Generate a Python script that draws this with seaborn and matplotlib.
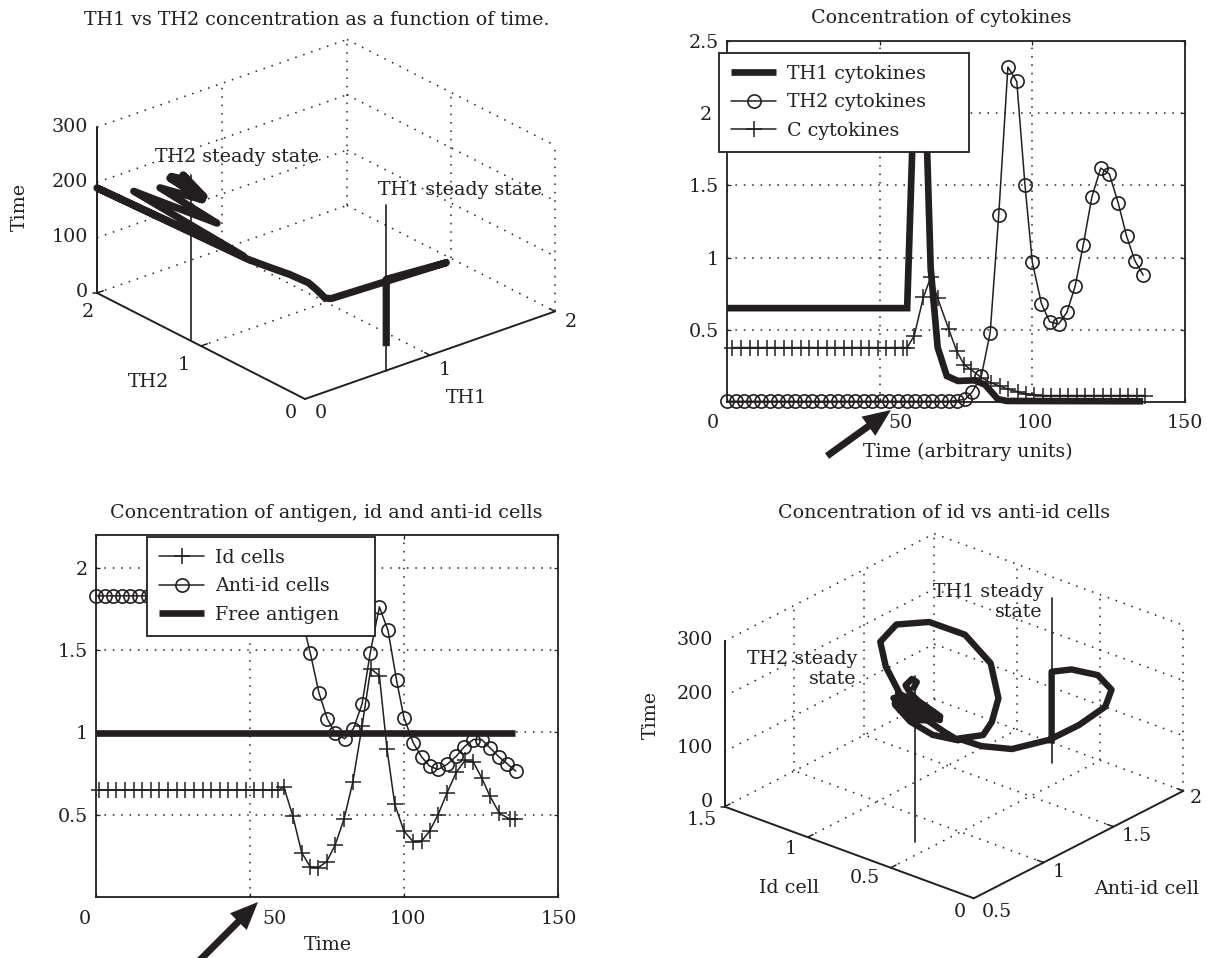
import numpy as np
import matplotlib
matplotlib.use("Agg")
import matplotlib.pyplot as plt
from matplotlib.transforms import ScaledTranslation
import seaborn as sns

# ---------- data: panel A (TH1 / TH2 / time trajectory) ----------
a_th1 = [0.65, 0.65, 1.13, 0.21, 0.16, 0.147, 0.12, 0.083, 0.04, 0.0, 0.0, 0.01, 0.04, 0.087, 0.094, 0.105, 0.099, 0.142, 0.17, 0.068, 0.076, 0.029, 0.12]
a_th2 = [0.0, 0.0, 0.0, 0.0, 0.0, 0.067, 0.112, 0.246, 0.414, 0.55, 2.0, 0.603, 1.695, 0.95, 1.508, 1.117, 1.405, 1.304, 1.376, 1.053, 1.391, 1.023, 1.25]
a_time = [44, 165, 157, 165, 170, 180, 190, 195, 197, 200, 190, 200, 210, 220, 230, 245, 260, 260, 260, 260, 260, 260, 260]
a_steady_th1 = [0.65, 0.0]
a_steady_th2 = [0.0, 1.1]
steady_time = [0, 300]

# ---------- data: panel B (cytokines) ----------
th1c_t = [0, 59, 60.7, 63, 65.5, 66.7, 69, 72, 75.6, 81, 84.5, 88.7, 91.7, 136.3]
th1c_v = [0.65, 0.65, 1.77, 2.35, 1.77, 0.93, 0.377, 0.18, 0.146, 0.15, 0.12, 0.02, 0.007, 0.005]
th2c_t = [0, 2.8, 5.6, 8.4, 11.2, 14, 16.8, 19.6, 22.4, 25.2, 28, 30.8, 33.6, 36.4, 39.2, 42, 44.8, 47.6, 50.4, 53.2,
          56, 58.8, 61.6, 64.4, 67.2, 70, 72.8, 75.2, 78, 80.4, 83.3, 86.2, 89, 92, 94.9, 97.6, 100, 103, 105.7,
          108.6, 111.3, 114, 116.7, 119.5, 122.4, 125.2, 128.1, 130.9, 133.6, 136.3]
th2c_v = [0.005, 0.005, 0.005, 0.005, 0.005, 0.005, 0.005, 0.005, 0.005, 0.005, 0.005, 0.005, 0.005, 0.005, 0.005, 0.005, 0.005, 0.005, 0.005, 0.005,
          0.005, 0.005, 0.005, 0.005, 0.005, 0.005, 0.005, 0.01, 0.018, 0.072, 0.18, 0.481, 1.297, 2.32, 2.22, 1.50, 0.967, 0.68, 0.555,
          0.54, 0.62, 0.80, 1.09, 1.42, 1.62, 1.58, 1.38, 1.147, 0.978, 0.879]
cc_t = [1.8, 4.6, 7.4, 10.2, 13, 15.8, 18.6, 21.4, 24.2, 27, 29.8, 32.6, 35.4, 38.2, 41, 43.8, 46.6, 49.4, 52.2, 55, 57.8, 59,
        61.3, 64.3, 66.7, 69, 72.6, 75.2, 77.7, 79.8, 83.3, 86.3, 89.3, 92, 95.2, 97.9, 100.6, 103.4, 106.2, 109, 111.8,
        114.6, 117.4, 120.2, 123, 125.8, 128.6, 131.4, 134.2, 136.8]
cc_v = [0.377, 0.377, 0.377, 0.377, 0.377, 0.377, 0.377, 0.377, 0.377, 0.377, 0.377, 0.377, 0.377, 0.377, 0.377, 0.377, 0.377, 0.377, 0.377, 0.377, 0.377, 0.377,
        0.458, 0.724, 0.863, 0.718, 0.505, 0.354, 0.257, 0.227, 0.169, 0.134, 0.111, 0.088, 0.072, 0.053, 0.049, 0.045, 0.045, 0.045, 0.045,
        0.045, 0.045, 0.045, 0.045, 0.045, 0.045, 0.045, 0.045, 0.045]
b_xticks = [0, 50, 100, 150]
b_yticks = [0.5, 1, 1.5, 2, 2.5]
b_yticklabels = ["0.5", "1", "1.5", "2", "2.5"]

# ---------- data: panel C (antigen, id, anti-id) ----------
id_t = [1, 3.8, 6.6, 9.4, 12.2, 15, 17.8, 20.6, 23.4, 26.2, 29, 31.8, 34.6, 37.4, 40.2, 43, 45.8, 48.6, 51.4, 54.2, 57, 59.2, 61,
        63.9, 66.8, 69.6, 72.1, 74.9, 77.6, 80.5, 83.4, 86.4, 89.2, 92, 94.5, 97, 100, 103, 105.7, 108.3, 111, 114, 117,
        119.8, 122.5, 125.2, 127.9, 131, 134.5, 136]
id_v = [0.65, 0.65, 0.65, 0.65, 0.65, 0.65, 0.65, 0.65, 0.65, 0.65, 0.65, 0.65, 0.65, 0.65, 0.65, 0.65, 0.65, 0.65, 0.65, 0.65, 0.65, 0.65, 0.668,
        0.492, 0.269, 0.182, 0.178, 0.215, 0.314, 0.472, 0.70, 1.04, 1.387, 1.346, 0.897, 0.563, 0.40, 0.336, 0.34, 0.40, 0.498, 0.634, 0.759,
        0.83, 0.82, 0.725, 0.613, 0.508, 0.472, 0.472]
anti_t = [0, 2.8, 5.6, 8.4, 11.2, 14, 16.8, 19.6, 28, 42, 56, 61.6, 64.4, 67, 69.6, 72.4, 75.1, 77.7, 80.7, 83.6, 86.4, 89, 92, 94.8,
          97.6, 100, 103, 105.7, 108.3, 111, 114, 117, 119.6, 122.5, 125.2, 127.9, 130.8, 133.5, 136.3]
anti_v = [1.83, 1.83, 1.83, 1.83, 1.83, 1.83, 1.83, 1.83, 1.83, 1.83, 1.83, 1.83, 1.81, 1.68, 1.48, 1.24, 1.083, 0.994, 0.962, 1.024, 1.174, 1.48, 1.763, 1.621,
          1.316, 1.089, 0.937, 0.852, 0.796, 0.775, 0.806, 0.856, 0.913, 0.957, 0.957, 0.907, 0.852, 0.81, 0.765]
ag_t = [0, 136]
ag_v = [0.995, 0.995]
c_xticks = [0, 50, 100, 150]
c_yticks = [0.5, 1, 1.5, 2]
c_yticklabels = ["0.5", "1", "1.5", "2"]

# ---------- data: panel D (id / anti-id / time trajectory) ----------
d_anti = [1.83, 1.83, 1.89, 1.90, 1.80, 1.62, 1.37, 1.14, 0.93, 0.84, 0.81, 0.89, 1.0, 1.19, 1.42, 1.54, 1.50, 1.35, 1.13, 0.91, 0.73, 0.62, 0.59, 0.58,
          0.53, 0.58, 0.68, 0.78, 0.77, 0.72, 0.69, 0.79, 0.73, 0.69, 0.68, 0.65, 0.63, 0.67, 0.70, 0.74, 0.73, 0.68, 0.64, 0.73, 0.75, 0.75, 0.82, 0.87, 0.94, 0.93, 0.85]
d_id = [0.65, 0.65, 0.581, 0.431, 0.264, 0.151, 0.099, 0.083, 0.132, 0.241, 0.354, 0.272, 0.312, 0.432, 0.672, 0.928, 1.11, 1.181, 1.093, 0.875, 0.639, 0.415, 0.256, 0.161,
        0.273, 0.45, 0.625, 0.691, 0.544, 0.387, 0.636, 0.604, 0.423, 0.364, 0.489, 0.571, 0.43, 0.39, 0.406, 0.472, 0.534, 0.538, 0.535, 0.677, 0.619, 0.508, 0.652, 0.722, 0.743, 0.705, 0.664]
d_time = [36, 166, 170, 175, 180, 185, 190, 195, 200, 205, 210, 215, 220, 225, 232, 240, 248, 255, 262, 270, 270, 268, 262, 258,
          262, 260, 258, 258, 258, 258, 258, 258, 258, 258, 258, 258, 258, 258, 258, 258, 258, 258, 258, 258, 258, 258, 258, 258, 258, 258, 258]
d_steady1_anti = [1.83, 1.83]
d_steady1_id = [0.65, 0.65]
d_steady2_anti = [0.784, 0.784]
d_steady2_id = [0.595, 0.595]

INK = "#231f20"
FONT = "DejaVu Serif"
FS = 13.7
W, H = 1207, 958

sns.set_theme(style="white", rc={"axes.edgecolor": INK, "text.color": INK, "axes.labelcolor": INK,
                                 "xtick.color": INK, "ytick.color": INK})
plt.rcParams["font.family"] = [FONT, "DejaVu Sans"]
plt.rcParams["font.size"] = FS

fig = plt.figure(figsize=(W / 100, H / 100), dpi=100)
DOT = (0, (1, 4.5))


def px_axes(x0, y0, x1, y1):
    ax = fig.add_axes([x0 / W, 1 - y1 / H, (x1 - x0) / W, (y1 - y0) / H])
    ax.set_xlim(x0, x1)
    ax.set_ylim(y1, y0)
    ax.axis("off")
    return ax


def curve(ax, xs, ys, **kw):
    sns.lineplot(x=xs, y=ys, ax=ax, sort=False, estimator=None, errorbar=None, legend=False,
                 color=INK, clip_on=False, **kw)


def box3d(ax, proj, xr, yr, zr, xt, yt, zt):
    """Draw the MATLAB style open box: floor, two back walls, three solid axes."""
    x0, x1 = xr
    y0, y1 = yr
    z0, z1 = zr

    def seg(p, q, **kw):
        s = proj(np.array([p[0], q[0]]), np.array([p[1], q[1]]), np.array([p[2], q[2]]))
        curve(ax, s[0], s[1], **kw)

    grid = dict(lw=1.1, linestyle=DOT)
    for x in list(xt) + [x1]:
        if x != x1:
            seg((x, y0, z0), (x, y1, z0), **grid)
        seg((x, y1, z0), (x, y1, z1), **grid)
    for y in list(yt) + [y0]:
        if y != y0:
            seg((x0, y, z0), (x1, y, z0), **grid)
        seg((x1, y, z0), (x1, y, z1), **grid)
    for z in zt:
        seg((x0, y1, z), (x1, y1, z), **grid)
        seg((x1, y1, z), (x1, y0, z), **grid)
    solid = dict(lw=1.4)
    seg((x0, y0, z0), (x1, y0, z0), **solid)
    seg((x0, y0, z0), (x0, y1, z0), **solid)
    seg((x0, y1, z0), (x0, y1, z1), **solid)
    dx = (x1 - x0) * 0.025
    dy = (y1 - y0) * 0.025
    for x in list(xt) + [x1]:
        seg((x, y0, z0), (x, y0 + dy, z0), lw=1.1)
    for y in list(yt) + [y1]:
        seg((x0, y, z0), (x0 + dx, y, z0), lw=1.1)
    sx, sy = proj(np.array([x0]), np.array([y1]), np.array(zt, dtype=float))
    for u, v in zip(sx, sy):
        curve(ax, [u - 4, u], [v, v], lw=1.1)


def texts(ax, items):
    for s, x, y, kw in items:
        ax.text(x, y, s, ha=kw.get("ha", "center"), va="center", rotation=kw.get("rot", 0),
                fontsize=FS, linespacing=1.1, multialignment=kw.get("ha", "center"))


def offset_ticks(ax, xlabels_dx, ylabels_dx=None):
    fig.canvas.draw()
    for lab, dx in zip(ax.get_xticklabels(), xlabels_dx):
        lab.set_transform(lab.get_transform() + ScaledTranslation(dx / 100, 0, fig.dpi_scale_trans))
    if ylabels_dx:
        for lab, dx in zip(ax.get_yticklabels(), ylabels_dx):
            lab.set_transform(lab.get_transform() + ScaledTranslation(dx / 100, 0, fig.dpi_scale_trans))


def panel2d(rect, xlim, ylim):
    x0, y0, x1, y1 = rect
    ax = fig.add_axes([x0 / W, 1 - y1 / H, (x1 - x0) / W, (y1 - y0) / H])
    ax.set_xlim(*xlim)
    ax.set_ylim(*ylim)
    ax.grid(True, color=INK, lw=1.1, linestyle=DOT)
    ax.set_axisbelow(True)
    for s in ax.spines.values():
        s.set_linewidth(1.3)
        s.set_color(INK)
    ax.tick_params(direction="in", length=3, width=0.9, top=True, right=True, left=True, bottom=True,
                   labelsize=FS)
    ax.tick_params(axis="x", pad=9)
    ax.tick_params(axis="y", pad=6)
    return ax


LEGEND = dict(loc="upper left", mode="expand", borderaxespad=0, frameon=True, fancybox=False, framealpha=1,
              edgecolor=INK, fontsize=FS, handlelength=2.4, handletextpad=0.55, labelspacing=0.55, borderpad=0.62)

# ---------- panel A ----------
axA = px_axes(0, 30, 600, 440)
OA = np.array([305.0, 399.0])


def projA(x, y, z):
    return OA[0] + 125 * x - 104 * y, OA[1] - 43.8 * x - 53 * y - 0.553 * z


box3d(axA, projA, (0, 2), (0, 2), (0, 300), [1], [1], [0, 100, 200, 300])
for i in range(2):
    s = projA(np.array([a_steady_th1[i]] * 2), np.array([a_steady_th2[i]] * 2), np.array(steady_time, dtype=float))
    curve(axA, s[0], s[1], lw=1.2)
s = projA(np.array(a_th1), np.array(a_th2), np.array(a_time, dtype=float))
curve(axA, s[0], s[1], lw=5.2, solid_joinstyle="round", solid_capstyle="butt")
texts(axA, [("TH2 steady state", 237, 157, {}), ("TH1 steady state", 460, 190, {}),
            ("Time", 20, 207, {"rot": 90}), ("300", 70, 127, {}), ("200", 70, 182, {}), ("100", 70, 237, {}),
            ("0", 82, 292, {}), ("2", 88, 312, {}), ("1", 184, 365, {}), ("TH2", 149, 382, {}),
            ("0", 291, 413, {}), ("0", 321, 413, {}), ("1", 445, 370, {}), ("TH1", 466, 398, {}), ("2", 571, 322, {})])
fig.text(317 / W, 1 - 20 / H, "TH1 vs TH2 concentration as a function of time.", ha="center", va="center", fontsize=FS)

# ---------- panel B ----------
axB = panel2d((727, 41, 1185, 402), (0, 150), (0, 2.5))
axB.set_xticks(b_xticks)
axB.set_yticks(b_yticks)
axB.set_yticklabels(b_yticklabels)
sns.lineplot(x=th1c_t, y=th1c_v, ax=axB, sort=False, estimator=None, errorbar=None, color=INK, lw=4.8,
             label="TH1 cytokines", clip_on=False, solid_joinstyle="miter", solid_capstyle="butt")
sns.lineplot(x=th2c_t, y=th2c_v, ax=axB, sort=False, estimator=None, errorbar=None, color=INK, lw=1.1,
             marker="o", ms=9.5, markerfacecolor="none", markeredgecolor=INK, markeredgewidth=1.2,
             label="TH2 cytokines", clip_on=False)
sns.lineplot(x=cc_t, y=cc_v, ax=axB, sort=False, estimator=None, errorbar=None, color=INK, lw=1.1,
             marker="+", ms=11, markeredgecolor=INK, markeredgewidth=1.1,
             label="C cytokines", clip_on=False)
axB.set_xlabel("")
axB.set_ylabel("")
lgB = axB.legend(bbox_to_anchor=((719 - 727) / 458, 1 - (53 - 41) / 361 - 0.02, 250 / 458, 0.02), **LEGEND)
lgB.get_frame().set_linewidth(1.3)
offset_ticks(axB, [-14, 21, 3, 0], [0, 0, 0, -7, 0])
fig.text(941 / W, 1 - 18 / H, "Concentration of cytokines", ha="center", va="center", fontsize=FS)
fig.text(968 / W, 1 - 452 / H, "Time (arbitrary units)", ha="center", va="center", fontsize=FS)

# ---------- panel C ----------
axC = panel2d((96, 535, 558, 897), (0, 150), (0, 2.2))
axC.set_xticks(c_xticks)
axC.set_yticks(c_yticks)
axC.set_yticklabels(c_yticklabels)
sns.lineplot(x=id_t, y=id_v, ax=axC, sort=False, estimator=None, errorbar=None, color=INK, lw=1.1,
             marker="+", ms=11, markeredgecolor=INK, markeredgewidth=1.1, label="Id cells", clip_on=False)
sns.lineplot(x=anti_t, y=anti_v, ax=axC, sort=False, estimator=None, errorbar=None, color=INK, lw=1.1,
             marker="o", ms=9.5, markerfacecolor="none", markeredgecolor=INK, markeredgewidth=1.2,
             label="Anti-id cells", clip_on=False)
sns.lineplot(x=ag_t, y=ag_v, ax=axC, sort=False, estimator=None, errorbar=None, color=INK, lw=4.8,
             label="Free antigen", solid_capstyle="butt")
axC.set_xlabel("")
axC.set_ylabel("")
lgC = axC.legend(bbox_to_anchor=((147 - 96) / 462, 1 - (537 - 535) / 362 - 0.02, 228 / 462, 0.02), **LEGEND)
lgC.get_frame().set_linewidth(1.3)
offset_ticks(axC, [-11, 24, 4, 1])
fig.text(326 / W, 1 - 513 / H, "Concentration of antigen, id and anti-id cells", ha="center", va="center", fontsize=FS)
fig.text(328 / W, 1 - 945 / H, "Time", ha="center", va="center", fontsize=FS)

# ---------- panel D ----------
axD = px_axes(620, 525, 1207, 930)
OD = np.array([973.8, 898.3])


def projD(anti, idc, z):
    return OD[0] + 139.7 * (anti - 0.5) - 166.1 * idc, OD[1] - 71.6 * (anti - 0.5) - 61.1 * idc - 0.552 * z


box3d(axD, projD, (0.5, 2), (0, 1.5), (0, 300), [1, 1.5], [0.5, 1], [0, 100, 200, 300])
for a, b in [(d_steady1_anti, d_steady1_id), (d_steady2_anti, d_steady2_id)]:
    s = projD(np.array(a), np.array(b), np.array(steady_time, dtype=float))
    curve(axD, s[0], s[1], lw=1.2)
s = projD(np.array(d_anti), np.array(d_id), np.array(d_time, dtype=float))
curve(axD, s[0], s[1], lw=4.6, solid_joinstyle="round", solid_capstyle="butt")
texts(axD, [("TH1 steady\nstate", 1043, 602, {"ha": "right"}), ("TH2 steady\nstate", 857, 669, {"ha": "right"}),
            ("Time", 651, 715, {"rot": 90}), ("300", 695, 640, {}), ("200", 695, 694, {}), ("100", 695, 748, {}),
            ("0", 707, 802, {}), ("1.5", 702, 820, {}), ("1", 791, 849, {}), ("0.5", 865, 878, {}),
            ("Id cell", 789, 888, {}), ("0", 960, 912, {}), ("0.5", 997, 912, {}), ("1", 1059, 872, {}),
            ("1.5", 1137, 836, {}), ("2", 1196, 798, {}), ("Anti-id cell", 1147, 889, {})])
fig.text(944 / W, 1 - 513 / H, "Concentration of id vs anti-id cells", ha="center", va="center", fontsize=FS)

# ---------- arrows ----------
over = px_axes(0, 0, W, H)
for tail, head in [((827, 456), (891, 410)), ((198, 962), (258, 902))]:
    over.annotate("", xy=head, xytext=tail, annotation_clip=False,
                  arrowprops=dict(facecolor=INK, edgecolor=INK, width=5, headwidth=17, headlength=20, shrink=0, lw=0))

fig.savefig("out.png", dpi=100)
